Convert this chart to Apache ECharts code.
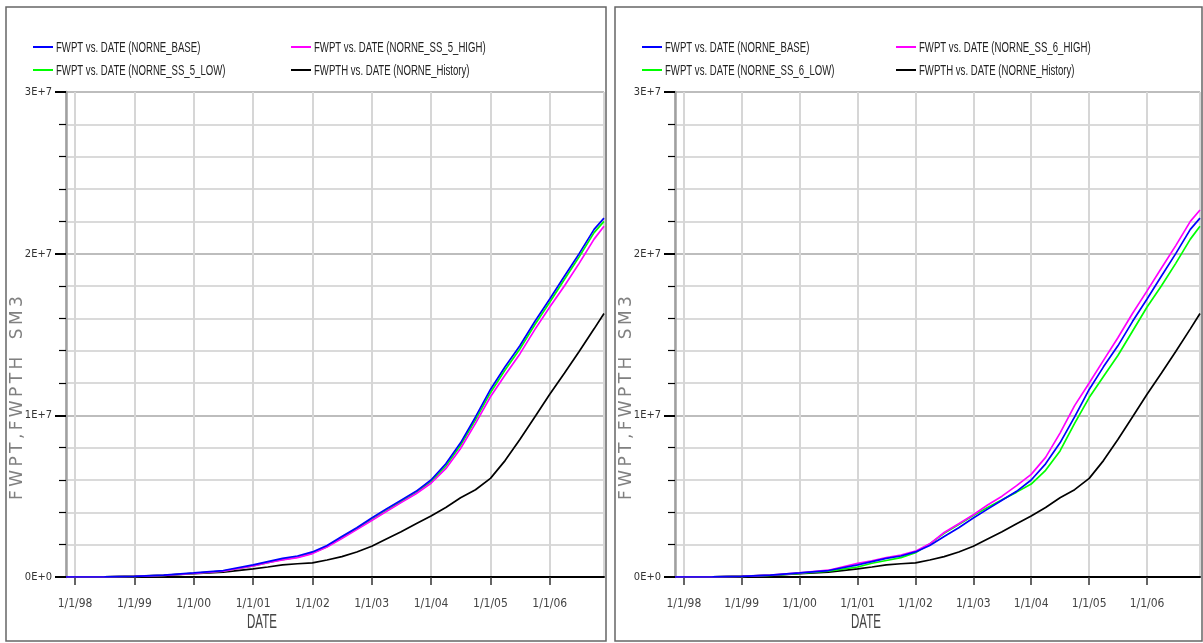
<!DOCTYPE html>
<html><head><meta charset="utf-8">
<script src="https://cdn.jsdelivr.net/npm/echarts@6/dist/echarts.min.js"></script>
<style>html,body{margin:0;padding:0;background:#fff}#c{width:1203px;height:643px}</style>
</head><body><div id="c"></div>
<script>
// ---- data (values in millions of SM3) ----
const dates = ['1997-11-06','1998-01-01','1998-07-01','1999-01-01','1999-07-01','2000-01-01','2000-07-01',
  '2001-01-01','2001-04-01','2001-07-01','2001-10-01','2002-01-01','2002-04-01','2002-07-01','2002-10-01',
  '2003-01-01','2003-04-01','2003-07-01','2003-10-01','2004-01-01','2004-04-01','2004-07-01','2004-10-01',
  '2005-01-01','2005-04-01','2005-07-01','2005-10-01','2006-01-01','2006-04-01','2006-07-01','2006-10-01','2006-12-01'];
const base    = [0,0,0.01,0.04,0.12,0.25,0.40,0.75,0.95,1.15,1.30,1.55,1.95,2.50,3.05,3.65,4.20,4.75,5.30,6.00,7.00,8.30,9.90,11.60,13.00,14.30,15.80,17.20,18.60,20.00,21.50,22.20];
const ss5Low  = [0,0,0.01,0.04,0.10,0.22,0.36,0.68,0.88,1.08,1.22,1.48,1.88,2.42,2.98,3.55,4.10,4.65,5.20,5.90,6.85,8.15,9.72,11.40,12.80,14.10,15.60,17.00,18.40,19.80,21.30,22.00];
const ss5High = [0,0,0.01,0.04,0.10,0.22,0.36,0.68,0.88,1.06,1.20,1.45,1.85,2.38,2.93,3.50,4.05,4.60,5.15,5.80,6.70,7.95,9.50,11.15,12.50,13.80,15.30,16.70,18.00,19.40,20.90,21.70];
const ss6Low  = [0,0,0.01,0.04,0.10,0.22,0.36,0.62,0.85,1.02,1.20,1.50,2.05,2.70,3.25,3.80,4.30,4.78,5.25,5.75,6.60,7.80,9.50,11.10,12.40,13.70,15.20,16.70,18.00,19.40,20.90,21.70];
const ss6High = [0,0,0.01,0.04,0.12,0.26,0.42,0.85,1.00,1.20,1.35,1.60,2.05,2.75,3.30,3.85,4.45,5.00,5.65,6.35,7.40,8.90,10.60,12.00,13.40,14.80,16.30,17.70,19.10,20.50,22.00,22.70];
const history = [0,0,0.01,0.05,0.10,0.20,0.30,0.50,0.62,0.75,0.82,0.87,1.05,1.26,1.55,1.90,2.35,2.80,3.30,3.77,4.30,4.90,5.40,6.10,7.20,8.50,9.90,11.30,12.60,13.95,15.35,16.30];
const yTickLabels = ['0E+0','1E+7','2E+7','3E+7'];
const namesLeft  = ['FWPT vs. DATE (NORNE_BASE)','FWPT vs. DATE (NORNE_SS_5_HIGH)','FWPT vs. DATE (NORNE_SS_5_LOW)','FWPTH vs. DATE (NORNE_History)'];
const namesRight = ['FWPT vs. DATE (NORNE_BASE)','FWPT vs. DATE (NORNE_SS_6_HIGH)','FWPT vs. DATE (NORNE_SS_6_LOW)','FWPTH vs. DATE (NORNE_History)'];
const colors = ['#0000ff','#ff00ff','#00ff00','#000000'];
const xTitle = 'DATE';
const yTitle = 'F\u2009W\u2009P\u2009T\u2009,\u2009F\u2009W\u2009P\u2009T\u2009H\u2009  \u2009S\u2009M\u20093';

// ---- build ----
const NARROW = "'DejaVu Sans Condensed','Liberation Sans Narrow',sans-serif";
const ARIAL = "'Liberation Sans',Arial,sans-serif";
const pairs = arr => arr.map((v,i)=>[dates[i], v*1e6]);
const leftData = [base, ss5High, ss5Low, history];
const rightData = [base, ss6High, ss6Low, history];

function xAx(gi){
  return {type:'time', gridIndex:gi, min:'1997-11-06', max:'2006-12-01',
    minInterval:365*86400000, maxInterval:366*86400000,
    axisLine:{show:true, lineStyle:{color:'#000', width:2}},
    axisTick:{show:true, length:8, lineStyle:{color:'#333', width:1.5}},
    axisLabel:{margin:21, fontFamily:NARROW, fontSize:12, color:'#444', showMinLabel:false, showMaxLabel:false,
      formatter:(v)=>{const d=new Date(v); return (d.getMonth()+1)+'/'+d.getDate()+'/'+String(d.getFullYear()).slice(2);}},
    splitLine:{show:true, lineStyle:{color:'#d6d6d6', width:2}}
  };
}
function yAx(gi){
  return {type:'value', gridIndex:gi, min:0, max:3e7, interval:1e7,
    axisLine:{show:true, lineStyle:{color:'#a0a0a0', width:2.5}},
    axisTick:{show:true, length:11, lineStyle:{color:'#000', width:2}},
    minorTick:{show:true, splitNumber:5, length:7, lineStyle:{color:'#000', width:1.2}},
    axisLabel:{margin:14, fontFamily:NARROW, fontSize:11, color:'#333', formatter:(v)=>yTickLabels[Math.round(v/1e7)]},
    splitLine:{show:true, lineStyle:{color:'#bdbdbd', width:2}},
    minorSplitLine:{show:true, lineStyle:{color:'#dadada', width:2}}
  };
}
const series = [];
[[leftData,namesLeft,0],[rightData,namesRight,1]].forEach(([d,n,gi])=>{
  d.forEach((arr,k)=>series.push({type:'line', name:n[k], xAxisIndex:gi, yAxisIndex:gi, data:pairs(arr),
    showSymbol:false, symbol:'none', smooth:false, clip:true, z:10-k,
    lineStyle:{color:colors[k], width:1.7}, itemStyle:{color:colors[k]}}));
});
// legend drawn as line + condensed text
const legendPos = [[33,48],[291,48],[33,71],[291,71]];
const legendPosR = [[642,48],[896,48],[642,71],[896,71]];
const graphic = [
  {type:'rect', shape:{x:6, y:7, width:600, height:634}, style:{fill:'none', stroke:'#666', lineWidth:1.5}, silent:true},
  {type:'rect', shape:{x:615, y:7, width:587, height:634}, style:{fill:'none', stroke:'#666', lineWidth:1.5}, silent:true},
  {type:'text', x:262, y:622, scaleX:0.55, style:{text:xTitle, fontFamily:ARIAL, fontSize:21, fill:'#444', align:'center', verticalAlign:'middle'}},
  {type:'text', x:866, y:622, scaleX:0.55, style:{text:xTitle, fontFamily:ARIAL, fontSize:21, fill:'#444', align:'center', verticalAlign:'middle'}},
  {type:'text', x:18, y:398, rotation:Math.PI/2, style:{text:yTitle, fontFamily:"'DejaVu Sans',sans-serif", fontSize:17, fill:'#808080', align:'center', verticalAlign:'middle'}},
  {type:'text', x:627, y:398, rotation:Math.PI/2, style:{text:yTitle, fontFamily:"'DejaVu Sans',sans-serif", fontSize:17, fill:'#808080', align:'center', verticalAlign:'middle'}}
];
[[namesLeft,legendPos],[namesRight,legendPosR]].forEach(([n,pos])=>{
  n.forEach((nm,k)=>{
    const [lx,ly]=pos[k];
    graphic.push({type:'line', shape:{x1:lx, y1:ly-1, x2:lx+20, y2:ly-1}, style:{stroke:colors[k], lineWidth:2}, silent:true});
    graphic.push({type:'text', x:lx+23, y:ly, scaleX:0.64, style:{text:nm, fontFamily:ARIAL, fontSize:15, fill:'#222', align:'left', verticalAlign:'middle'}});
  });
});
const chart = echarts.init(document.getElementById('c'));
chart.setOption({
  animation:false, backgroundColor:'#fff',
  grid:[{left:66, top:92, width:538, height:485},{left:675, top:92, width:525, height:485}],
  xAxis:[xAx(0), xAx(1)], yAxis:[yAx(0), yAx(1)],
  series, graphic
});
</script></body></html>
